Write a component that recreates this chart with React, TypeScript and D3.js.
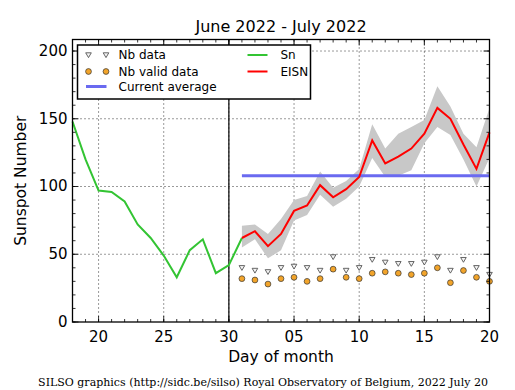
import { useEffect, useRef } from 'react';
import * as d3 from 'd3';

// Daily sunspot number (Sn), end of previous month
const snDates = [
    '2022-06-18', '2022-06-19', '2022-06-20', '2022-06-21', '2022-06-22', '2022-06-23', '2022-06-24',
    '2022-06-25', '2022-06-26', '2022-06-27', '2022-06-28', '2022-06-29', '2022-06-30', '2022-07-01',
];
const snValues = [148, 120, 97, 96, 89, 72, 62, 49, 33, 53, 61, 36, 42, 62];

// Estimated International Sunspot Number (EISN), current month
const eisnDates = [
    '2022-07-01', '2022-07-02', '2022-07-03', '2022-07-04', '2022-07-05', '2022-07-06', '2022-07-07',
    '2022-07-08', '2022-07-09', '2022-07-10', '2022-07-11', '2022-07-12', '2022-07-13', '2022-07-14',
    '2022-07-15', '2022-07-16', '2022-07-17', '2022-07-18', '2022-07-19', '2022-07-20',
];
const eisnValues = [62, 67, 56, 65, 82, 86, 101, 92, 98, 107, 134, 117, 122, 128, 139, 158, 150, 131, 113, 140];
const eisnLow = [55, 61, 47, 53, 75, 79, 94, 85, 91, 100, 121, 107, 108, 112, 132, 144, 138, 120, 100, 121];
const eisnHigh = [71, 72, 65, 76, 90, 93, 111, 99, 104, 113, 146, 128, 139, 144, 149, 174, 159, 139, 129, 158];
const nbData = [40, 38, 37, 40, 41, 40, 38, 48, 38, 40, 46, 44, 43, 43, 44, 48, 38, 46, 40, 35];
const nbValid = [32, 31, 28, 32, 33, 30, 32, 39, 33, 32, 36, 37, 36, 35, 36, 40, 29, 38, 33, 30];
const currentAverage = 108;

// Axis ticks
const xTickDates = ['2022-06-20', '2022-06-25', '2022-06-30', '2022-07-05', '2022-07-10', '2022-07-15', '2022-07-20'];
const xTickLabels = ['20', '25', '30', '05', '10', '15', '20'];
const yTicks = [0, 50, 100, 150, 200];

const parse = d3.utcParse('%Y-%m-%d');

export default function App() {
    const svgRef = useRef<SVGSVGElement>(null);

    useEffect(() => {
        if (!svgRef.current) return;
        d3.select(svgRef.current).selectAll('*').remove();

        const width = 515;
        const height = 390;
        const margin = { top: 39.5, right: 25.5, bottom: 68, left: 72.5 };
        const innerWidth = width - margin.left - margin.right;
        const innerHeight = height - margin.top - margin.bottom;
        const font = 'DejaVu Sans, sans-serif';

        const svg = d3.select(svgRef.current).attr('width', width).attr('height', height);
        svg.append('rect').attr('width', width).attr('height', height).attr('fill', '#fff');

        const g = svg.append('g').attr('transform', `translate(${margin.left},${margin.top})`);

        const xScale = d3
            .scaleUtc()
            .domain([parse('2022-06-18') as Date, parse('2022-07-20') as Date])
            .range([0, innerWidth]);
        const yScale = d3.scaleLinear().domain([0, 208.5]).range([innerHeight, 0]);

        const xMajor = xTickDates.map((d) => parse(d) as Date);
        const xMinor = d3.utcDay.range(xScale.domain()[0], d3.utcDay.offset(xScale.domain()[1], 1));
        const yMinor = d3.range(0, 210, 10);

        // Grid lines
        xMajor.forEach((d) => {
            g.append('line')
                .attr('x1', xScale(d))
                .attr('x2', xScale(d))
                .attr('y1', 0)
                .attr('y2', innerHeight)
                .attr('stroke', '#000')
                .attr('stroke-width', 0.8)
                .attr('stroke-dasharray', '1,3');
        });
        yTicks.slice(1).forEach((v) => {
            g.append('line')
                .attr('x1', 0)
                .attr('x2', innerWidth)
                .attr('y1', yScale(v))
                .attr('y2', yScale(v))
                .attr('stroke', '#000')
                .attr('stroke-width', 0.8)
                .attr('stroke-dasharray', '1,3');
        });

        const sx = (d: string) => xScale(parse(d) as Date);

        // EISN spread band
        const band = d3
            .area<number>()
            .x((_, i) => sx(eisnDates[i]))
            .y0((_, i) => yScale(eisnLow[i]))
            .y1((_, i) => yScale(eisnHigh[i]));
        g.append('path').datum(eisnValues).attr('fill', '#c8c8c8').attr('d', band);

        // Current average
        g.append('line')
            .attr('x1', sx(eisnDates[0]))
            .attr('x2', sx(eisnDates[eisnDates.length - 1]))
            .attr('y1', yScale(currentAverage))
            .attr('y2', yScale(currentAverage))
            .attr('stroke', '#6a6af0')
            .attr('stroke-width', 3);

        // Separator at month end
        g.append('line')
            .attr('x1', sx('2022-06-30'))
            .attr('x2', sx('2022-06-30'))
            .attr('y1', 0)
            .attr('y2', innerHeight)
            .attr('stroke', '#000')
            .attr('stroke-width', 1.2);

        // Sn line
        const snLine = d3
            .line<number>()
            .x((_, i) => sx(snDates[i]))
            .y((d) => yScale(d));
        g.append('path')
            .datum(snValues)
            .attr('fill', 'none')
            .attr('stroke', '#33c433')
            .attr('stroke-width', 2)
            .attr('d', snLine);

        // EISN line
        const eisnLine = d3
            .line<number>()
            .x((_, i) => sx(eisnDates[i]))
            .y((d) => yScale(d));
        g.append('path')
            .datum(eisnValues)
            .attr('fill', 'none')
            .attr('stroke', '#ff0000')
            .attr('stroke-width', 2)
            .attr('d', eisnLine);

        const triangle = (x: number, y: number) =>
            `M${x - 2.8},${y - 2.2}L${x + 2.8},${y - 2.2}L${x},${y + 2.6}Z`;

        // Nb data markers
        nbData.forEach((v, i) => {
            g.append('path')
                .attr('d', triangle(sx(eisnDates[i]), yScale(v)))
                .attr('fill', '#f4f4f4')
                .attr('stroke', '#555')
                .attr('stroke-width', 0.9);
        });
        nbValid.forEach((v, i) => {
            g.append('circle')
                .attr('cx', sx(eisnDates[i]))
                .attr('cy', yScale(v))
                .attr('r', 2.9)
                .attr('fill', '#f2a42a')
                .attr('stroke', '#333')
                .attr('stroke-width', 0.7);
        });

        // Ticks (inward, all four sides)
        const tick = (x1: number, y1: number, x2: number, y2: number) =>
            g.append('line').attr('x1', x1).attr('y1', y1).attr('x2', x2).attr('y2', y2).attr('stroke', '#000').attr('stroke-width', 0.8);
        xMinor.forEach((d) => {
            const x = xScale(d);
            tick(x, innerHeight, x, innerHeight - 3);
            tick(x, 0, x, 3);
        });
        xMajor.forEach((d) => {
            const x = xScale(d);
            tick(x, innerHeight, x, innerHeight - 6);
            tick(x, 0, x, 6);
        });
        yMinor.forEach((v) => {
            const y = yScale(v);
            tick(0, y, 3, y);
            tick(innerWidth, y, innerWidth - 3, y);
        });
        yTicks.forEach((v) => {
            const y = yScale(v);
            tick(0, y, 6, y);
            tick(innerWidth, y, innerWidth - 6, y);
        });

        // Frame
        g.append('rect')
            .attr('width', innerWidth)
            .attr('height', innerHeight)
            .attr('fill', 'none')
            .attr('stroke', '#000')
            .attr('stroke-width', 1.3);

        // Tick labels
        xMajor.forEach((d, i) => {
            g.append('text')
                .attr('x', xScale(d))
                .attr('y', innerHeight + 20)
                .attr('text-anchor', 'middle')
                .attr('font-family', font)
                .attr('font-size', 15)
                .text(xTickLabels[i]);
        });
        yTicks.forEach((v) => {
            g.append('text')
                .attr('x', -5)
                .attr('y', yScale(v))
                .attr('dy', '0.33em')
                .attr('text-anchor', 'end')
                .attr('font-family', font)
                .attr('font-size', 15)
                .text(v);
        });

        // Titles
        svg.append('text')
            .attr('x', margin.left + innerWidth / 2)
            .attr('y', 32)
            .attr('text-anchor', 'middle')
            .attr('font-family', font)
            .attr('font-size', 16)
            .text('June 2022 - July 2022');
        svg.append('text')
            .attr('x', margin.left + innerWidth / 2)
            .attr('y', 362)
            .attr('text-anchor', 'middle')
            .attr('font-family', font)
            .attr('font-size', 15.5)
            .text('Day of month');
        svg.append('text')
            .attr('transform', `translate(26,${margin.top + innerHeight / 2}) rotate(-90)`)
            .attr('text-anchor', 'middle')
            .attr('font-family', font)
            .attr('font-size', 15.5)
            .text('Sunspot Number');
        svg.append('text')
            .attr('x', 263)
            .attr('y', 386)
            .attr('text-anchor', 'middle')
            .attr('font-family', 'DejaVu Serif, serif')
            .attr('font-size', 11)
            .text('SILSO graphics (http://sidc.be/silso) Royal Observatory of Belgium, 2022 July 20');

        // Legend
        const legend = svg.append('g').attr('transform', 'translate(77.5,45)');
        legend.append('rect').attr('width', 233).attr('height', 54).attr('fill', '#fff').attr('stroke', '#000').attr('stroke-width', 1.5);
        const lf = (x: number, y: number, label: string) =>
            legend.append('text').attr('x', x).attr('y', y).attr('dy', '0.35em').attr('font-family', font).attr('font-size', 12).text(label);
        [11, 28.5].forEach((x) => {
            legend.append('path').attr('d', triangle(x, 10)).attr('fill', '#f4f4f4').attr('stroke', '#555').attr('stroke-width', 0.9);
            legend.append('circle').attr('cx', x).attr('cy', 26.5).attr('r', 2.9).attr('fill', '#f2a42a').attr('stroke', '#333').attr('stroke-width', 0.7);
        });
        legend.append('line').attr('x1', 8.5).attr('x2', 29).attr('y1', 41.5).attr('y2', 41.5).attr('stroke', '#6a6af0').attr('stroke-width', 3);
        legend.append('line').attr('x1', 170).attr('x2', 190).attr('y1', 10).attr('y2', 10).attr('stroke', '#33c433').attr('stroke-width', 2);
        legend.append('line').attr('x1', 170).attr('x2', 190).attr('y1', 26.5).attr('y2', 26.5).attr('stroke', '#ff0000').attr('stroke-width', 2);
        lf(41, 10, 'Nb data');
        lf(41, 26.5, 'Nb valid data');
        lf(41, 41.5, 'Current average');
        lf(203, 10, 'Sn');
        lf(203, 26.5, 'EISN');
    }, []);

    return <svg ref={svgRef} style={{ position: 'absolute', left: 0, top: 0 }} />;
}
